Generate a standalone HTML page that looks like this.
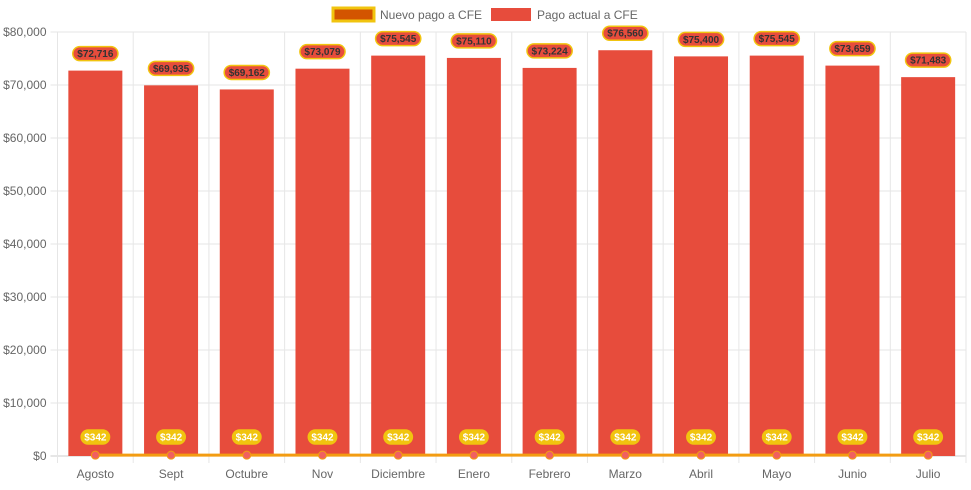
<!DOCTYPE html>
<html><head><meta charset="utf-8"><style>
body{margin:0;background:#fff;font-family:"Liberation Sans",Arial,sans-serif}
svg text{font-family:"Liberation Sans",Arial,sans-serif}
</style></head><body>
<svg id="c" width="971" height="485">
<g>
 <rect x="333" y="8" width="41" height="13" fill="#d35400" stroke="#f1c40f" stroke-width="3"/>
 <text x="380" y="19" font-size="12" fill="#666">Nuevo pago a CFE</text>
 <rect x="491" y="8" width="40" height="13" fill="#e74c3c"/>
 <text x="537" y="19" font-size="12" fill="#666">Pago actual a CFE</text>
</g>
</svg>
<script>
const categories=["Agosto","Sept","Octubre","Nov","Diciembre","Enero","Febrero","Marzo","Abril","Mayo","Junio","Julio"];
const actual=[72716,69935,69162,73079,75545,75110,73224,76560,75400,75545,73659,71483];
const nuevo=[342,342,342,342,342,342,342,342,342,342,342,342];
const yTicks=[0,10000,20000,30000,40000,50000,60000,70000,80000];
const svg=document.getElementById('c');const NS='http://www.w3.org/2000/svg';
const L=57.5,R=966,T=32,B=456,YMAX=80000;
const cw=(R-L)/categories.length;
const x=i=>L+cw*(i+0.5);
const y=v=>B-(v/YMAX)*(B-T);
const fmt=v=>'$'+v.toLocaleString('en-US');
function mk(t,a,p){const e=document.createElementNS(NS,t);for(const k in a)e.setAttribute(k,a[k]);(p||svg).appendChild(e);return e;}
const grid=mk('g',{});


yTicks.forEach(v=>{
 const ln=mk('line',{x1:L-7,x2:R,y1:y(v),y2:y(v),stroke:v===0?'#ccc':'#e6e6e6'},grid);
 
 
 const t=mk('text',{x:L-11,y:y(v)+4,'text-anchor':'end','font-size':12,fill:'#666'});
 t.textContent=fmt(v);
 
 
});
for(let i=0;i<=categories.length;i++){
 const ln=mk('line',{x1:L+cw*i,x2:L+cw*i,y1:T,y2:B+7,stroke:'#e6e6e6'},grid);
 
 
}
categories.forEach((c,i)=>{
 const r=mk('rect',{x:x(i)-27,y:y(actual[i]),width:54,height:B-y(actual[i]),fill:'#e74c3c'});
 
 
 const t=mk('text',{x:x(i),y:B+22,'text-anchor':'middle','font-size':12,fill:'#666'});
 t.textContent=c;
 
 
});
const pts=nuevo.map((v,i)=>x(i)+','+(y(v)+1)).join(' ');
const pl=mk('polyline',{points:pts,fill:'none',stroke:'#f39c12','stroke-width':3});


function pill(cx,cy,txt,fill,stroke,col,name){
 const w=txt.length*5.6+6;
 const r=mk('rect',{x:cx-w/2,y:cy-7,width:w,height:14,rx:7,fill:fill,stroke:stroke,'stroke-width':1.5});
 
 
 const t=mk('text',{x:cx,y:cy+3.5,'text-anchor':'middle','font-size':10,'font-weight':'bold',fill:col});
 t.textContent=txt;
 
 
}
nuevo.forEach((v,i)=>{
 const c=mk('circle',{cx:x(i),cy:y(v)+1,r:4,fill:'#f06060',stroke:'#f39c12','stroke-width':1});
 
 
 pill(x(i),437,fmt(v),'#f1c40f','#f1c40f','#fff','nuevo-value-label');
});
actual.forEach((v,i)=>pill(x(i),y(v)-17,fmt(v),'#e74c3c','#f1c40f','#333','actual-value-label'));
</script>
</body></html>
